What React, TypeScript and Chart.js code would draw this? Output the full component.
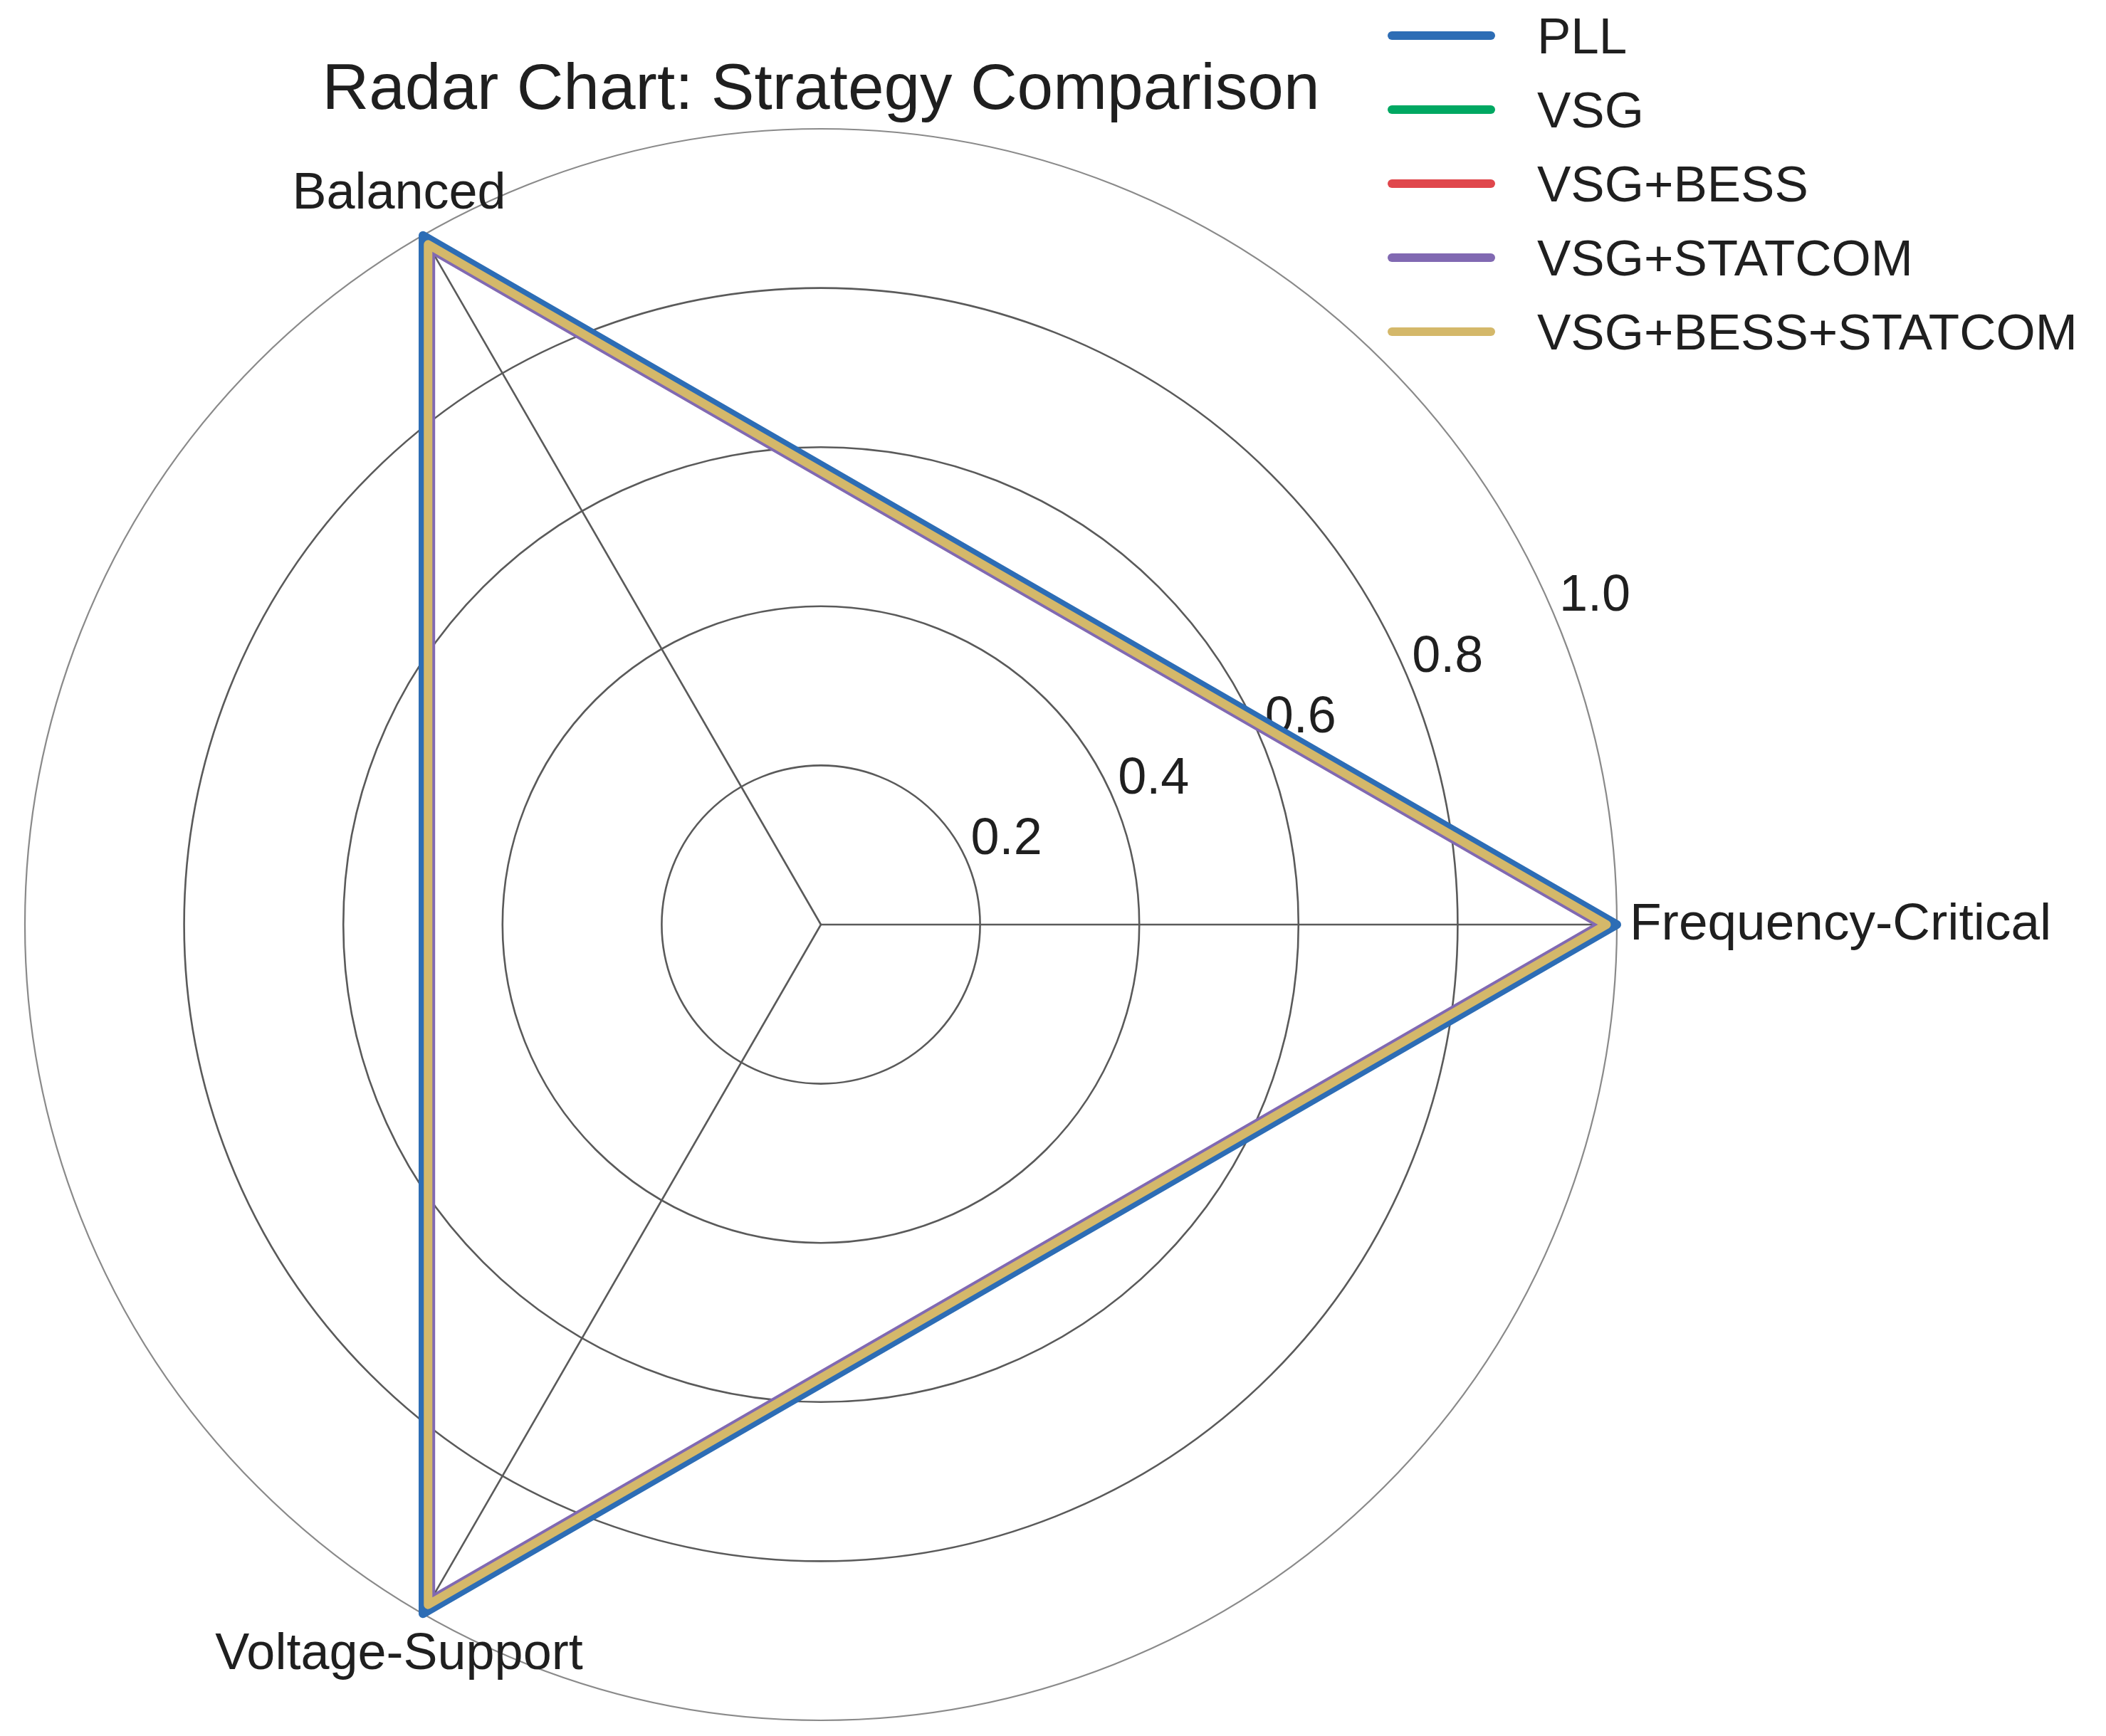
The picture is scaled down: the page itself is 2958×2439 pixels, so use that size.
import React, { useEffect, useRef } from "react";
import { Chart, registerables } from "chart.js";

Chart.register(...registerables);

const TITLE = "Radar Chart: Strategy Comparison";
// Chart.js walks clockwise from startAngle; this order puts Balanced upper-left, Voltage-Support lower-left
const categories = ["Frequency-Critical", "Voltage-Support", "Balanced"];
const seriesNames = ["PLL", "VSG", "VSG+BESS", "VSG+STATCOM", "VSG+BESS+STATCOM"];
const pllValues = [1.0, 1.0, 1.0];
const vsgValues = [0.986, 0.986, 0.986];
const vsgBessValues = [0.986, 0.986, 0.986];
const vsgStatcomValues = [0.98, 0.98, 0.98];
const vsgBessStatcomValues = [0.987, 0.987, 0.987];
const seriesValues = [pllValues, vsgValues, vsgBessValues, vsgStatcomValues, vsgBessStatcomValues];
const seriesColors = ["#2D6DB5", "#00A862", "#E0474C", "#8169B2", "#D4B86A"];
const radialTicks = [0.2, 0.4, 0.6, 0.8, 1.0];
const tickLabels = ["0.2", "0.4", "0.6", "0.8", "1.0"];

const FONT = '"Liberation Sans", Arial, Helvetica, sans-serif';
const TEXT = "#1f1f1f";

const overlayPlugin = {
  id: "overlay",
  beforeDatasetsDraw(chart: any) {
    const ctx = chart.ctx;
    const s = chart.scales.r;
    ctx.save();
    ctx.fillStyle = TEXT;
    ctx.textBaseline = "alphabetic";
    // radial tick labels at 22.5 degrees
    ctx.font = `72px ${FONT}`;
    ctx.textAlign = "left";
    const a = (22.5 * Math.PI) / 180;
    radialTicks.forEach((v, i) => {
      const d = s.getDistanceFromCenterForValue(v);
      const x = s.xCenter + d * Math.cos(a);
      const y = s.yCenter - d * Math.sin(a);
      ctx.fillText(tickLabels[i], x + 4, y - 13);
    });
    // category labels
    categories.forEach((lab, i) => {
      if (i === 0) {
        const p = s.getPointPosition(i, s.drawingArea + 18);
        ctx.font = `73px ${FONT}`;
        ctx.textAlign = "left";
        ctx.fillText(lab, p.x, p.y + 21);
      } else {
        const p = s.getPointPosition(i, s.drawingArea + 67);
        ctx.font = `72px ${FONT}`;
        ctx.textAlign = "center";
        ctx.fillText(lab, p.x, p.y + 20);
      }
    });
    ctx.restore();
  },
  afterDraw(chart: any) {
    const ctx = chart.ctx;
    const s = chart.scales.r;
    ctx.save();
    ctx.fillStyle = TEXT;
    ctx.textBaseline = "alphabetic";
    ctx.font = `91px ${FONT}`;
    ctx.textAlign = "center";
    ctx.fillText(TITLE, s.xCenter, 153);
    // legend
    ctx.font = `71px ${FONT}`;
    ctx.textAlign = "left";
    seriesNames.forEach((name, i) => {
      const y = 50 + i * 104;
      ctx.strokeStyle = seriesColors[i];
      ctx.lineWidth = 12;
      ctx.lineCap = "round";
      ctx.beginPath();
      ctx.moveTo(1955, y);
      ctx.lineTo(2094, y);
      ctx.stroke();
      ctx.fillText(name, 2159, y + 25);
    });
    ctx.restore();
  },
};

export default function App() {
  const canvasRef = useRef<HTMLCanvasElement | null>(null);

  useEffect(() => {
    const canvas = canvasRef.current;
    if (!canvas) return;
    const chart = new Chart(canvas, {
      type: "radar",
      data: {
        labels: categories,
        datasets: seriesNames.map((name, i) => ({
          label: name,
          data: seriesValues[i],
          borderColor: seriesColors[i],
          backgroundColor: "rgba(0,0,0,0)",
          fill: false,
          borderWidth: 12,
          borderJoinStyle: "round",
          pointRadius: 0,
          pointHoverRadius: 0,
          tension: 0,
          order: seriesNames.length - 1 - i,
        })),
      },
      options: {
        responsive: false,
        animation: false,
        devicePixelRatio: 1,
        layout: { padding: { left: 35, right: 687, top: 181, bottom: 22 } },
        plugins: {
          legend: { display: false },
          title: { display: false },
          tooltip: { enabled: false },
        },
        scales: {
          r: {
            min: 0,
            max: 1,
            startAngle: 90,
            ticks: { display: false, stepSize: 0.2 },
            pointLabels: { display: false },
            grid: {
              circular: true,
              color: (c: any) => (c.tick && c.tick.value >= 0.999 ? "#8a8a8a" : "#5a5a5a"),
              lineWidth: (c: any) => (c.tick && c.tick.value >= 0.999 ? 2.2 : 2.6),
            },
            angleLines: { display: true, color: "#5a5a5a", lineWidth: 2.6 },
          },
        },
      } as any,
      plugins: [overlayPlugin],
    });
    return () => chart.destroy();
  }, []);

  return (
    <div style={{ position: "absolute", left: 0, top: 0, width: 2958, height: 2439, background: "#ffffff" }}>
      <canvas ref={canvasRef} width={2958} height={2439} style={{ display: "block" }} />
    </div>
  );
}
